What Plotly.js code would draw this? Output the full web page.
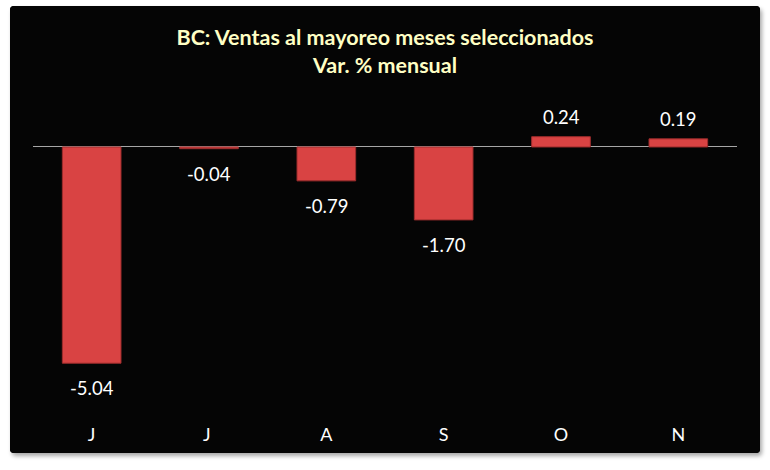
<!DOCTYPE html>
<html>
<head>
<meta charset="utf-8">
<script src="https://cdn.plot.ly/plotly-3.0.1.min.js"></script>
<style>
  html, body { margin: 0; padding: 0; background: #ffffff; }
  #panel {
    position: absolute; left: 10px; top: 6px; width: 750px; height: 447px;
    background: #050505; border-radius: 4px; overflow: hidden;
    box-shadow: 2px 3px 4px rgba(0,0,0,0.35);
  }
</style>
</head>
<body>
<div id="panel"></div>
<script>
// Variación % mensual de las ventas al mayoreo
const months = ["J", "J ", "A", "S", "O", "N"];
const values = [-5.04, -0.04, -0.79, -1.70, 0.24, 0.19];
const labels = ["-5.04", "-0.04", "-0.79", "-1.70", "0.24", "0.19"];

const bars = {
  type: "bar",
  x: months,
  y: values,
  marker: { color: "#d94343", line: { color: "#9c2c2c", width: 1 } },
  hoverinfo: "skip"
};

const valueNotes = values.map((v, i) => ({
  x: months[i], y: v, xref: "x", yref: "y",
  text: labels[i], showarrow: false,
  yanchor: v >= 0 ? "bottom" : "top",
  yshift: v >= 0 ? 7 : -12,
  font: { family: "Lato, 'Open Sans', sans-serif", size: 18.5, color: "#ffffff" }
}));

const layout = {
  width: 750, height: 447,
  paper_bgcolor: "#050505", plot_bgcolor: "rgba(0,0,0,0)",
  margin: { l: 23, r: 23, t: 94, b: 38, pad: 0 },
  bargap: 0.5,
  showlegend: false,
  title: {
    text: "<b>BC: Ventas al mayoreo meses seleccionados<br>Var. % mensual</b>",
    x: 0.5, xanchor: "center",
    y: 1 - 39 / 447, yref: "container", yanchor: "top",
    font: { family: "Lato, 'Open Sans', sans-serif", size: 21.5, color: "#ffffc4" }
  },
  xaxis: {
    type: "category",
    showgrid: false, showline: false, ticks: "",
    ticklabelstandoff: 7,
    tickfont: { family: "Lato, 'Open Sans', sans-serif", size: 18, color: "#ffffff" },
    fixedrange: true
  },
  yaxis: {
    range: [-6.247, 1.095],
    showgrid: false, showticklabels: false, ticks: "",
    zeroline: true, zerolinecolor: "#a6a6a6", zerolinewidth: 1,
    fixedrange: true
  },
  annotations: valueNotes
};

Plotly.newPlot("panel", [bars], layout, { displayModeBar: false, staticPlot: true });
</script>
</body>
</html>
